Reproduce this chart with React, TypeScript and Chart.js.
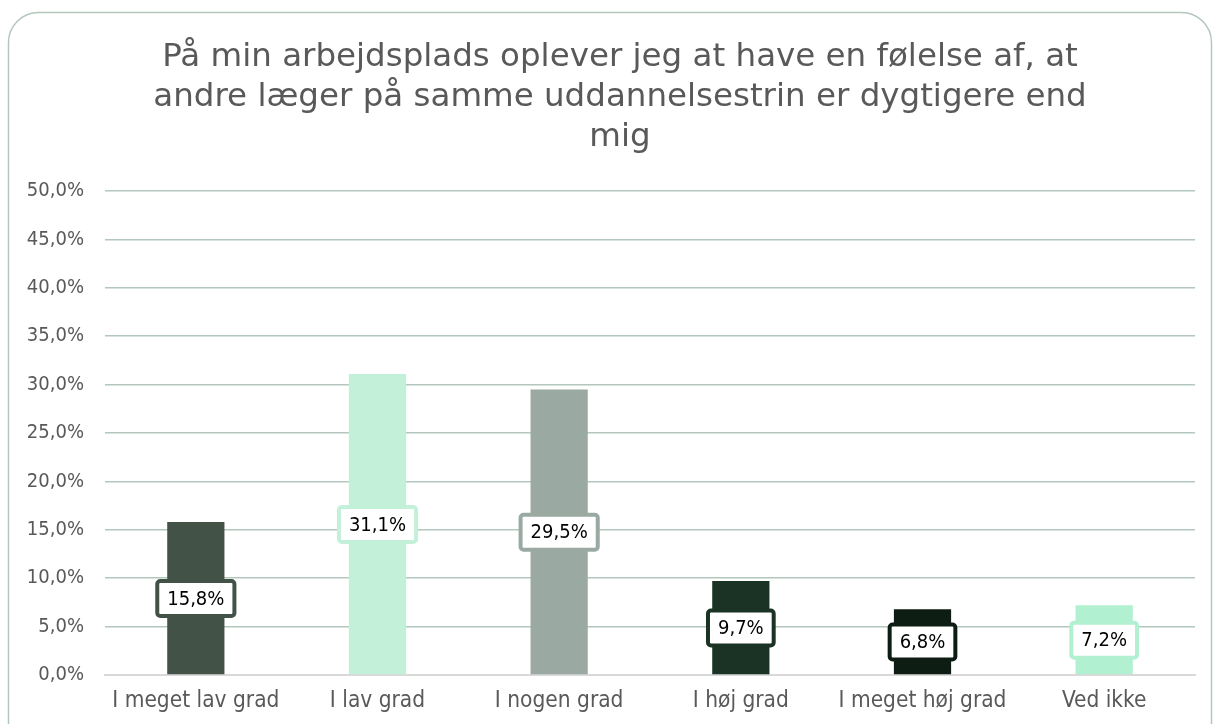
import React, { useEffect, useRef } from "react";
import { Chart, registerables } from "chart.js";

Chart.register(...registerables);

const titleLines = [
  "På min arbejdsplads oplever jeg at have en følelse af, at",
  "andre læger på samme uddannelsestrin er dygtigere end",
  "mig",
];
const categories = [
  "I meget lav grad",
  "I lav grad",
  "I nogen grad",
  "I høj grad",
  "I meget høj grad",
  "Ved ikke",
];
const values = [15.8, 31.1, 29.5, 9.7, 6.8, 7.2];
const barColors = ["#435247", "#c3f0d9", "#9aa9a1", "#1a3324", "#0e1d13", "#b1f0d1"];

const FONT = "'DejaVu Sans', sans-serif";
const FONT_C = "'DejaVu Sans Condensed', 'DejaVu Sans', sans-serif";
const fmt = (v: number) => v.toFixed(1).replace(".", ",") + "%";

const framePlugin = {
  id: "frame",
  beforeDraw(chart: any) {
    const ctx = chart.ctx;
    ctx.save();
    ctx.fillStyle = "#ffffff";
    ctx.fillRect(0, 0, chart.width, chart.height);
    ctx.strokeStyle = "#b4c7bc";
    ctx.lineWidth = 1.5;
    const x = 8.5, y = 12.5, w = 1203, h = 760, r = 30;
    ctx.beginPath();
    ctx.moveTo(x + r, y);
    ctx.lineTo(x + w - r, y);
    ctx.arcTo(x + w, y, x + w, y + r, r);
    ctx.lineTo(x + w, y + h - r);
    ctx.arcTo(x + w, y + h, x + w - r, y + h, r);
    ctx.lineTo(x + r, y + h);
    ctx.arcTo(x, y + h, x, y + h - r, r);
    ctx.lineTo(x, y + r);
    ctx.arcTo(x, y, x + r, y, r);
    ctx.closePath();
    ctx.stroke();
    // title
    ctx.fillStyle = "#595959";
    ctx.font = `32.5px ${FONT}`;
    ctx.textAlign = "center";
    ctx.textBaseline = "alphabetic";
    titleLines.forEach((t, i) => ctx.fillText(t, 620, 66 + i * 40));
    ctx.restore();
  },
};

const labelPlugin = {
  id: "boxLabels",
  afterDatasetsDraw(chart: any) {
    const ctx = chart.ctx;
    const meta = chart.getDatasetMeta(0);
    const ys = chart.scales.y;
    ctx.save();
    ctx.font = `20px ${FONT_C}`;
    ctx.textAlign = "center";
    ctx.textBaseline = "middle";
    meta.data.forEach((el: any, i: number) => {
      const v = values[i];
      const cx = el.x;
      const cy = ys.getPixelForValue(v / 2);
      const text = fmt(v);
      const tw = ctx.measureText(text).width;
      const bw = tw + 20;
      const bh = 35;
      const bx = cx - bw / 2;
      const by = cy - bh / 2;
      ctx.fillStyle = "#ffffff";
      ctx.strokeStyle = barColors[i];
      ctx.lineWidth = 4;
      ctx.beginPath();
      (ctx as any).roundRect(bx, by, bw, bh, 3);
      ctx.fill();
      ctx.stroke();
      ctx.fillStyle = "#000000";
      ctx.fillText(text, cx, cy + 1);
    });
    ctx.restore();
  },
};

export default function App() {
  const ref = useRef<HTMLCanvasElement | null>(null);
  useEffect(() => {
    if (!ref.current) return;
    const chart = new Chart(ref.current, {
      type: "bar",
      data: {
        labels: categories,
        datasets: [
          {
            data: values,
            backgroundColor: barColors,
            barPercentage: 0.63,
            categoryPercentage: 0.5,
          },
        ],
      },
      options: {
        responsive: false,
        animation: false,
        devicePixelRatio: 1,
        layout: { padding: { top: 191, left: 0, right: 25, bottom: 0 } },
        plugins: { legend: { display: false }, tooltip: { enabled: false }, title: { display: false } },
        scales: {
          x: {
            grid: { display: false, drawTicks: false },
            border: { display: true, color: "#d9d9d9", width: 2 },
            ticks: { color: "#595959", font: { family: FONT_C, size: 22.5 }, padding: 13, maxRotation: 0 },
            afterFit: (s: any) => { s.height = 49; },
          },
          y: {
            min: 0,
            max: 50,
            grid: { color: "#b4c7bc", lineWidth: 1.5, drawTicks: false },
            border: { display: false },
            ticks: {
              stepSize: 5,
              color: "#595959",
              font: { family: FONT_C, size: 20 },
              padding: 21,
              callback: (v: any) => fmt(Number(v)),
            },
            afterFit: (s: any) => { s.width = 105; },
          },
        },
      },
      plugins: [framePlugin, labelPlugin],
    });
    return () => chart.destroy();
  }, []);
  return (
    <div style={{ position: "fixed", left: 0, top: 0, width: 1220, height: 724 }}>
      <canvas ref={ref} width={1220} height={724} style={{ width: 1220, height: 724 }} />
    </div>
  );
}
